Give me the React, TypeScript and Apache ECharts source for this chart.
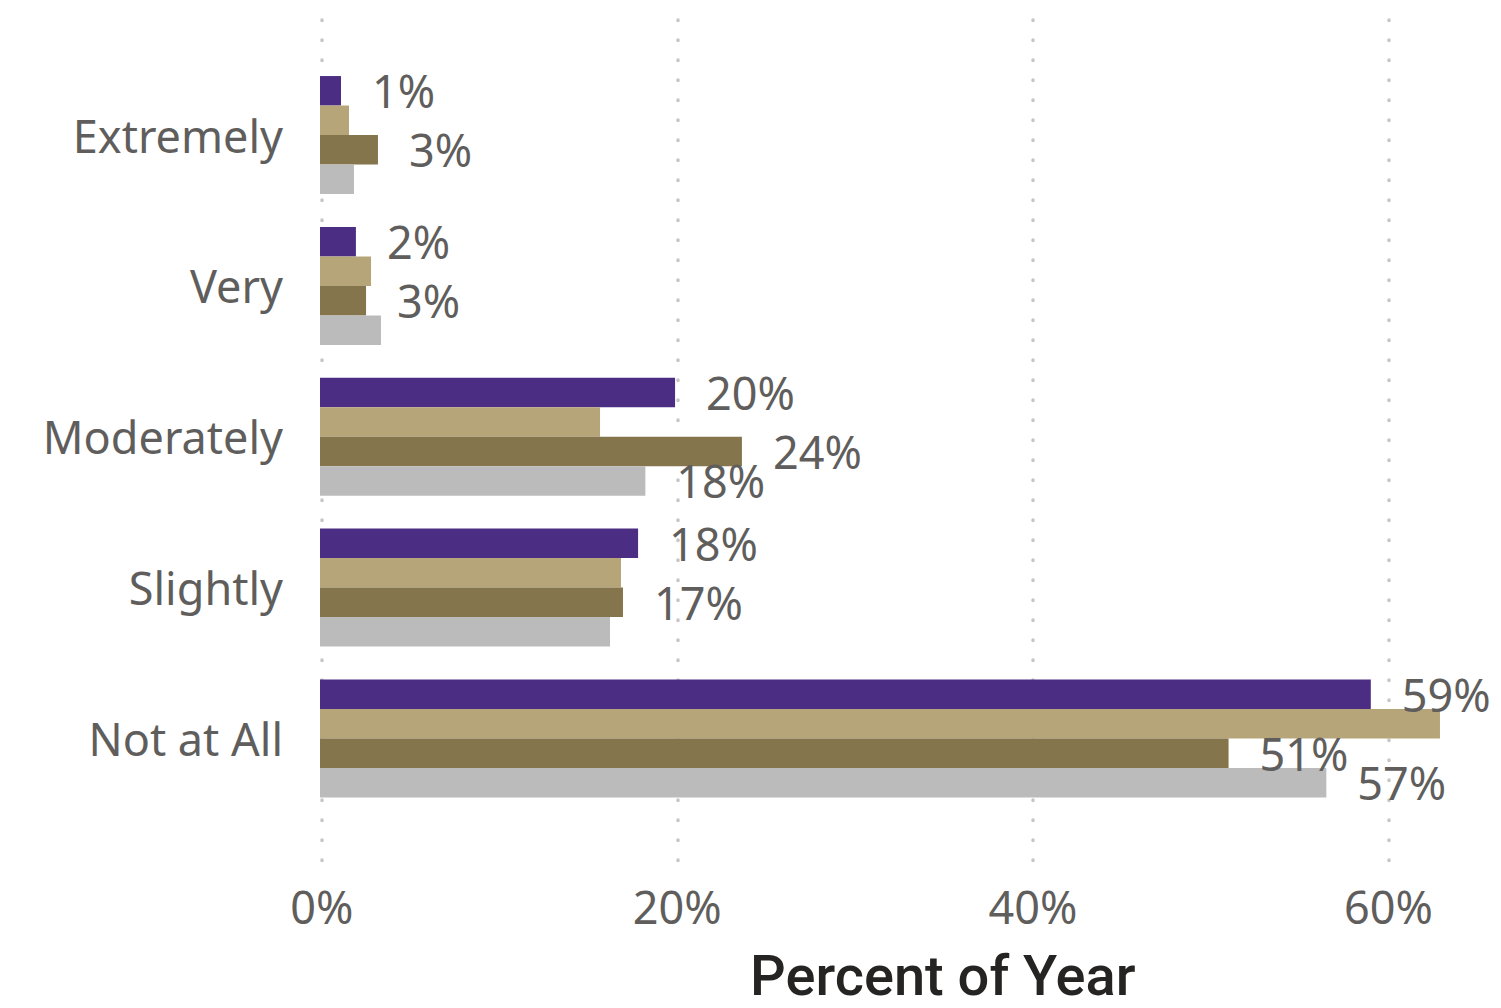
import React, { useEffect, useRef } from "react";
import * as echarts from "echarts";

const categories = ["Extremely", "Very", "Moderately", "Slightly", "Not at All"];
const seriesNames = ["Series A", "Series B", "Series C", "Series D"];
const seriesColors = ["#4B2E83", "#B7A57A", "#85754D", "#BBBBBB"];
// values in percent of year
const valuesA = [1.18, 2.02, 19.97, 17.89, 59.1];
const valuesB = [1.63, 2.87, 15.75, 16.93, 62.99];
const valuesC = [3.26, 2.59, 23.73, 17.04, 51.1];
const valuesD = [1.91, 3.43, 18.3, 16.31, 56.6];
const showLabelA = [true, true, true, true, true];
const showLabelB = [false, false, false, false, false];
const showLabelC = [true, true, true, true, true];
const showLabelD = [false, false, true, false, true];
const xTicks = [0, 20, 40, 60];
const xAxisTitle = "Percent of Year";

const allValues = [valuesA, valuesB, valuesC, valuesD];
const allShow = [showLabelA, showLabelB, showLabelC, showLabelD];

export default function App() {
  const ref = useRef<HTMLDivElement>(null);
  useEffect(() => {
    if (!ref.current) return;
    const chart = echarts.init(ref.current, null, { renderer: "svg" });
    const textColor = "#605E5C";
    const pxPerPct = 17.78;
    const axisMax = 65;
    const span = pxPerPct * axisMax;
    const barLeft = 320;
    const lineLeft = 321.7;
    const gridColors = xTicks.map(() => "#C6C6C6").concat(["rgba(0,0,0,0)"]);

    const series = allValues.map((vals, si) => ({
      name: seriesNames[si],
      type: "bar",
      xAxisIndex: 1,
      yAxisIndex: 1,
      barGap: "0%",
      barCategoryGap: "21.8%",
      itemStyle: { color: seriesColors[si] },
      data: vals.map((v, i) => ({
        value: v,
        label: { show: allShow[si][i] },
      })),
      label: {
        position: "right",
        distance: 31,
        color: textColor,
        fontSize: 45,
        fontFamily: "Noto Sans",
        formatter: (p: any) => Math.round(p.value) + "%",
      },
    }));

    chart.setOption({
      animation: false,
      textStyle: { fontFamily: "Noto Sans" },
      grid: [
        { left: lineLeft, width: span, top: 20, height: 843 },
        { left: barLeft, width: span, top: 59.6, height: 754.3 },
      ],
      xAxis: [
        {
          type: "value",
          gridIndex: 0,
          min: 0,
          max: axisMax,
          interval: 20,
          axisLine: { show: false },
          axisTick: { show: false },
          axisLabel: {
            color: textColor,
            fontSize: 45,
            fontFamily: "Noto Sans",
            margin: 21,
            showMaxLabel: false,
            formatter: (v: number) => (xTicks.indexOf(v) >= 0 ? v + "%" : ""),
          },
          splitLine: {
            show: true,
            showMaxLine: false,
            lineStyle: { color: gridColors, width: 3.5, type: [0.6, 19.4], cap: "round" },
          },
        },
        {
          type: "value",
          gridIndex: 1,
          min: 0,
          max: axisMax,
          interval: 20,
          show: false,
          splitLine: { show: false },
        },
      ],
      yAxis: [
        {
          type: "category",
          gridIndex: 0,
          data: categories,
          show: false,
        },
        {
          type: "category",
          gridIndex: 1,
          data: categories,
          inverse: true,
          axisLine: { show: false },
          axisTick: { show: false },
          splitLine: { show: false },
          axisLabel: {
            color: textColor,
            fontSize: 45,
            fontFamily: "Noto Sans",
            margin: 37,
          },
        },
      ],
      graphic: [
        {
          type: "text",
          left: 750,
          top: 948,
          style: {
            text: xAxisTitle,
            x: 0,
            y: 0,
            textAlign: "left",
            textVerticalAlign: "top",
            lineHeight: 56,
            fontFamily: "Roboto",
            fontWeight: 500,
            fontSize: 56,
            fill: "#252423",
          },
        },
      ],
      series,
    });
    return () => chart.dispose();
  }, []);
  return (
    <div
      ref={ref}
      style={{ position: "fixed", left: 0, top: 0, width: 1501, height: 1008, background: "#fff" }}
    />
  );
}
